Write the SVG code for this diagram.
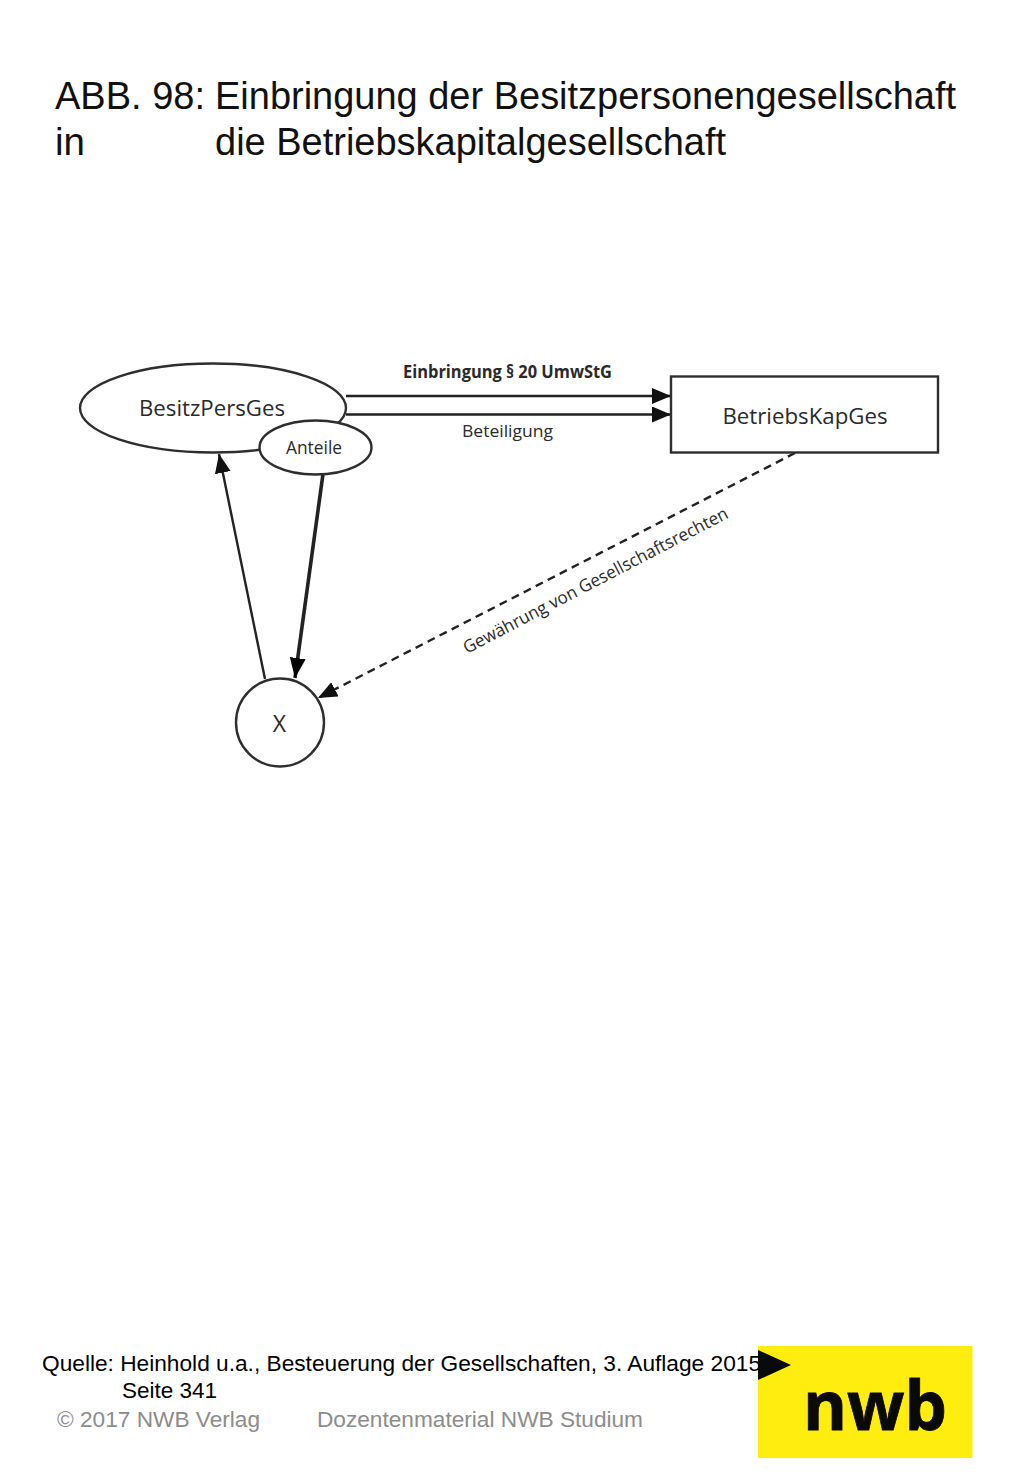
<svg xmlns="http://www.w3.org/2000/svg" width="1024" height="1479" viewBox="0 0 1024 1479">
<style>
.t{font-family:"Liberation Sans",Arial,sans-serif;fill:#111}
.title{font-size:38.5px}
.src{font-size:22.5px;fill:#000}
.foot{font-size:22.5px;fill:#8c8c8c}
.d{font-family:"Open Sans","Noto Sans",sans-serif;fill:#2a2a2a}
.shape{fill:#fff;stroke:#2e2e2e;stroke-width:2.4}
.c{fill:none;stroke:#222;stroke-width:2.4}
</style>
<defs>
<marker id="a" markerUnits="userSpaceOnUse" markerWidth="22" markerHeight="18" refX="19" refY="8" orient="auto"><path d="M0 0L19 8L0 16Z" fill="#111"/></marker>
<marker id="b" markerUnits="userSpaceOnUse" markerWidth="22" markerHeight="18" refX="20" refY="8" orient="auto"><path d="M0 0L20 8L0 16Z" fill="#000"/></marker>
</defs>
<rect width="1024" height="1479" fill="#fff"/>
<g id="title">
<text class="t title" x="55" y="109" textLength="150" lengthAdjust="spacingAndGlyphs">ABB. 98:</text>
<text class="t title" x="215" y="109" textLength="741" lengthAdjust="spacingAndGlyphs">Einbringung der Besitzpersonengesellschaft</text>
<text class="t title" x="55" y="155">in</text>
<text class="t title" x="215" y="155" textLength="511" lengthAdjust="spacingAndGlyphs">die Betriebskapitalgesellschaft</text>
</g>
<g id="connectors">
<path class="c" d="M346 396H671" marker-end="url(#a)"/>
<path class="c" d="M346 414.500H671" marker-end="url(#a)"/>
<path class="c" d="M265 679L219 454" marker-end="url(#a)"/>
<path class="c" style="stroke-width:3.6" d="M323 474L295 678" marker-end="url(#b)"/>
<path class="c" stroke-dasharray="8 5.500" d="M795 453L318 698" marker-end="url(#a)"/>
</g>
<g id="BesitzPersGes">
<ellipse class="shape" cx="213" cy="408" rx="133" ry="44.500"/>
<text class="d" x="212" y="416" font-size="22" text-anchor="middle" textLength="146" lengthAdjust="spacingAndGlyphs">BesitzPersGes</text>
</g>
<g id="Anteile">
<ellipse class="shape" cx="315.500" cy="447.500" rx="56" ry="27"/>
<text class="d" x="314" y="454" font-size="17.500" text-anchor="middle" textLength="56" lengthAdjust="spacingAndGlyphs">Anteile</text>
</g>
<g id="BetriebsKapGes">
<rect class="shape" x="671" y="376.500" width="267" height="76"/>
<text class="d" x="805" y="424" font-size="22" text-anchor="middle" textLength="165" lengthAdjust="spacingAndGlyphs">BetriebsKapGes</text>
</g>
<g id="X">
<circle class="shape" cx="280" cy="722.500" r="44"/>
<text class="d" x="279.500" y="732" font-size="23" text-anchor="middle">X</text>
</g>
<g id="labels">
<text class="d" x="507.500" y="378" font-size="17" font-weight="700" text-anchor="middle" textLength="209" lengthAdjust="spacingAndGlyphs" fill="#1a1a1a">Einbringung § 20 UmwStG</text>
<text class="d" x="507.500" y="437" font-size="17" text-anchor="middle" textLength="91" lengthAdjust="spacingAndGlyphs">Beteiligung</text>
<text class="d" transform="translate(467 654) rotate(-27.500)" font-size="17.500" textLength="296" lengthAdjust="spacingAndGlyphs">Gewährung von Gesellschaftsrechten</text>
</g>
<g id="logo">
<rect x="758" y="1346" width="214.500" height="112" fill="#ffed10"/>
<path d="M758 1350L791 1365L758 1380Z" fill="#0a0a0a"/>
<text x="875" y="1430" font-family="'Open Sans','Noto Sans',sans-serif" font-weight="700" font-size="68" fill="#0a0a0a" stroke="#0a0a0a" stroke-width="0.800" text-anchor="middle" textLength="144" lengthAdjust="spacingAndGlyphs">nwb</text>
</g>
<g id="source">
<text class="t src" x="42" y="1371" textLength="719" lengthAdjust="spacingAndGlyphs">Quelle: Heinhold u.a., Besteuerung der Gesellschaften, 3. Auflage 2015</text>
<text class="t src" x="122" y="1398">Seite 341</text>
<text class="t foot" x="57" y="1427" textLength="203" lengthAdjust="spacingAndGlyphs">© 2017 NWB Verlag</text>
<text class="t foot" x="317" y="1427" textLength="326" lengthAdjust="spacingAndGlyphs">Dozentenmaterial NWB Studium</text>
</g>
</svg>
